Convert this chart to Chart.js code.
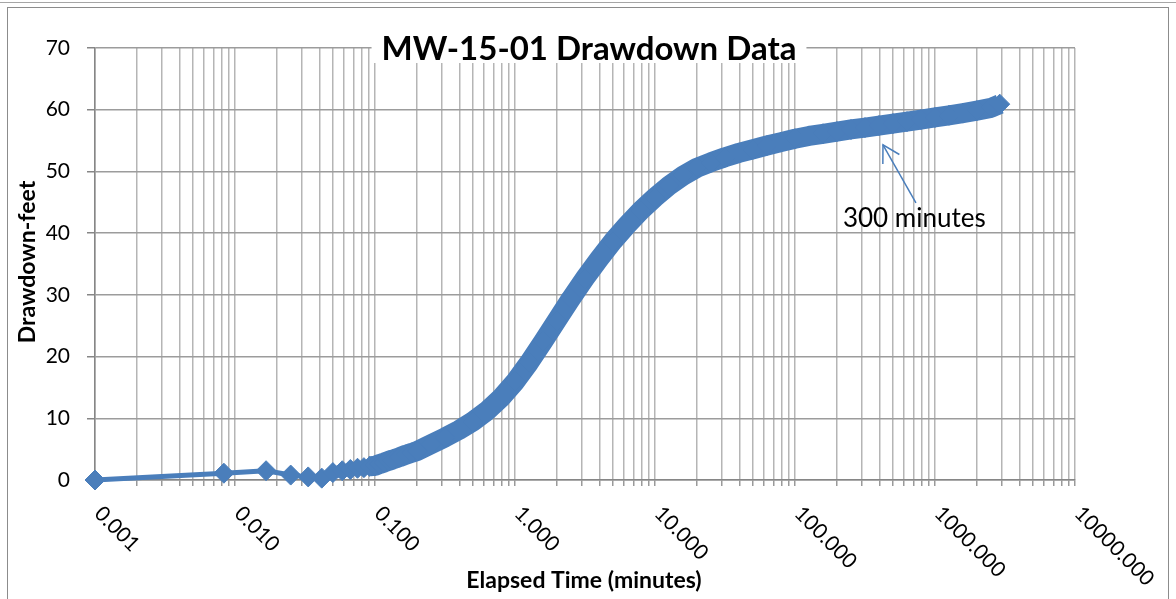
<!DOCTYPE html>
<html>
<head>
<meta charset="utf-8">
<script src="https://cdn.jsdelivr.net/npm/chart.js@4/dist/chart.umd.min.js"></script>
<style>
  html, body { margin: 0; padding: 0; background: #ffffff; }
  #wrap { width: 1176px; height: 599px; position: relative; }
</style>
</head>
<body>
<div id="wrap"><canvas id="c" width="1176" height="599"></canvas></div>
<script>
// ---- Data ----
const timeMin = [
  0.001, 0.00833, 0.01667, 0.025, 0.03333, 0.04167, 0.05, 0.05833, 0.06667, 0.075,
  0.08333, 0.09167, 0.1, 0.1083, 0.1167, 0.125, 0.1333, 0.15, 0.1667, 0.1833,
  0.2, 0.251, 0.316, 0.398, 0.501, 0.631, 0.794, 1.0, 1.259, 1.585,
  1.995, 2.512, 3.162, 3.981, 5.012, 6.31, 7.943, 10, 12.59, 15.85,
  19.95, 25.12, 31.62, 39.81, 50.12, 63.1, 79.4, 100, 125.9, 158.5,
  199.5, 251.2, 316.2, 398, 501, 631, 794, 1000, 1259, 1585,
  1995, 2512, 2900
];
const drawdownFt = [
  0.0, 1.1, 1.5, 0.8, 0.5, 0.3, 1.2, 1.5, 1.7, 1.9,
  2.0, 2.2, 2.3, 2.6, 2.85, 3.1, 3.3, 3.7, 4.1, 4.4,
  4.7, 5.8, 6.9, 8.1, 9.5, 11.2, 13.3, 15.9, 19.0, 22.4,
  25.9, 29.4, 32.7, 35.8, 38.7, 41.3, 43.7, 45.8, 47.7, 49.3,
  50.6, 51.5, 52.3, 53.0, 53.6, 54.2, 54.75, 55.3, 55.75, 56.1,
  56.45, 56.8, 57.1, 57.43, 57.75, 58.07, 58.4, 58.75, 59.1, 59.45,
  59.85, 60.3, 60.9
];
const xMajorTicks = [0.001, 0.01, 0.1, 1, 10, 100, 1000, 10000];
const xTickLabels = ['0.001', '0.010', '0.100', '1.000', '10.000', '100.000', '1000.000', '10000.000'];
const xMinorMultipliers = [2, 3, 4, 5, 6, 7, 8, 9];
const yTicks = [0, 10, 20, 30, 40, 50, 60, 70];

const chartTitle = 'MW-15-01 Drawdown Data';
const xAxisTitle = 'Elapsed Time (minutes)';
const yAxisTitle = 'Drawdown-feet';
const noteText = '300 minutes';
// annotation anchor values (data space)
const noteTextAt = { x: 220, y: 41 };
const noteArrowFrom = { x: 731, y: 44.9 };
const noteArrowTo = { x: 425, y: 54.3 };

const BLUE = '#4a7ebb';
const FONT = 'Lato, "Open Sans", sans-serif';

const points = timeMin.map((t, i) => ({ x: t, y: drawdownFt[i] }));

const overlay = {
  id: 'overlay',
  afterDraw(chart) {
    const ctx = chart.ctx, xs = chart.scales.x, ys = chart.scales.y, ca = chart.chartArea;
    ctx.save();
    // outer frame
    ctx.strokeStyle = '#a6a6a6'; ctx.lineWidth = 1;
    ctx.beginPath(); ctx.moveTo(0, 2.5); ctx.lineTo(1176, 2.5); ctx.stroke();
    ctx.strokeStyle = '#8c8c8c';
    ctx.strokeRect(7.5, 7.5, 1161, 640);

    // x tick labels (rotated 45° clockwise)
    ctx.fillStyle = '#000';
    ctx.font = '21px ' + FONT;
    ctx.textAlign = 'left'; ctx.textBaseline = 'middle';
    xMajorTicks.forEach((v, i) => {
      const px = xs.getPixelForValue(v);
      ctx.save();
      ctx.translate(px + 3, ca.bottom + 30);
      ctx.rotate(Math.PI / 4);
      ctx.fillText(xTickLabels[i], 0, 0);
      ctx.restore();
    });

    // title with white box behind
    ctx.font = 'bold 33px ' + FONT;
    const tw = ctx.measureText(chartTitle).width;
    const tcx = 589, tcy = 49;
    ctx.fillStyle = '#fff';
    ctx.fillRect(tcx - tw / 2 - 10, tcy - 14, tw + 20, 28);
    ctx.fillStyle = '#000';
    ctx.textAlign = 'center'; ctx.textBaseline = 'middle';
    ctx.fillText(chartTitle, tcx, tcy);

    // axis titles
    ctx.font = 'bold 23px ' + FONT;
    ctx.fillText(xAxisTitle, 584, 581);
    ctx.save();
    ctx.translate(28, 262);
    ctx.rotate(-Math.PI / 2);
    ctx.fillText(yAxisTitle, 0, 0);
    ctx.restore();

    // annotation
    const ax0 = xs.getPixelForValue(noteArrowFrom.x), ay0 = ys.getPixelForValue(noteArrowFrom.y);
    const ax1 = xs.getPixelForValue(noteArrowTo.x), ay1 = ys.getPixelForValue(noteArrowTo.y);
    ctx.strokeStyle = BLUE; ctx.lineWidth = 1.5;
    ctx.beginPath(); ctx.moveTo(ax0, ay0); ctx.lineTo(ax1, ay1); ctx.stroke();
    const ang = Math.atan2(ay0 - ay1, ax0 - ax1);
    const L = 19;
    ctx.beginPath();
    ctx.moveTo(ax1 + L * Math.cos(ang + Math.PI / 6), ay1 + L * Math.sin(ang + Math.PI / 6));
    ctx.lineTo(ax1, ay1);
    ctx.lineTo(ax1 + L * Math.cos(ang - Math.PI / 6), ay1 + L * Math.sin(ang - Math.PI / 6));
    ctx.stroke();
    ctx.fillStyle = '#000';
    ctx.font = '26px ' + FONT;
    ctx.textAlign = 'left'; ctx.textBaseline = 'alphabetic';
    ctx.fillText(noteText, xs.getPixelForValue(noteTextAt.x), ys.getPixelForValue(noteTextAt.y));
    ctx.restore();
  }
};

new Chart(document.getElementById('c'), {
  type: 'scatter',
  data: {
    datasets: [{
      data: points,
      showLine: true,
      clip: false,
      borderColor: BLUE,
      backgroundColor: BLUE,
      borderWidth: 5,
      pointStyle: 'rectRot',
      pointRadius: 10,
      pointBorderWidth: 1,
      pointBorderColor: BLUE,
      pointBackgroundColor: BLUE,
      borderJoinStyle: 'round',
      segment: {
        borderWidth: c => {
          const x = c.p0.parsed.x;
          if (x < 0.045) return 5;
          if (x < 0.09) return 12;
          return 20;
        }
      }
    }]
  },
  options: {
    responsive: false,
    animation: false,
    devicePixelRatio: 1,
    layout: { padding: { left: 0, top: 48, right: 101, bottom: 0 } },
    plugins: { legend: { display: false }, tooltip: { enabled: false }, title: { display: false } },
    scales: {
      x: {
        type: 'logarithmic',
        min: 0.001,
        max: 10000,
        afterBuildTicks: s => {
          const t = [];
          xMajorTicks.forEach((m, i) => {
            t.push({ value: m, major: true });
            if (i < xMajorTicks.length - 1) xMinorMultipliers.forEach(k => t.push({ value: m * k }));
          });
          s.ticks = t;
        },
        afterFit: s => { s.height = 119; },
        ticks: { display: false },
        grid: { color: '#b5b5b5', lineWidth: 1.5, tickLength: 6, tickColor: '#9a9a9a' },
        border: { color: '#868686', width: 1.5 }
      },
      y: {
        min: 0,
        max: 70,
        afterBuildTicks: s => { s.ticks = yTicks.map(v => ({ value: v })); },
        afterFit: s => { s.width = 95; },
        ticks: { color: '#000', font: { family: FONT, size: 21 }, padding: 17 },
        grid: { color: '#9c9c9c', lineWidth: 1.5, tickLength: 8, tickColor: '#868686' },
        border: { color: '#868686', width: 1.5 }
      }
    }
  },
  plugins: [overlay]
});
</script>
</body>
</html>
